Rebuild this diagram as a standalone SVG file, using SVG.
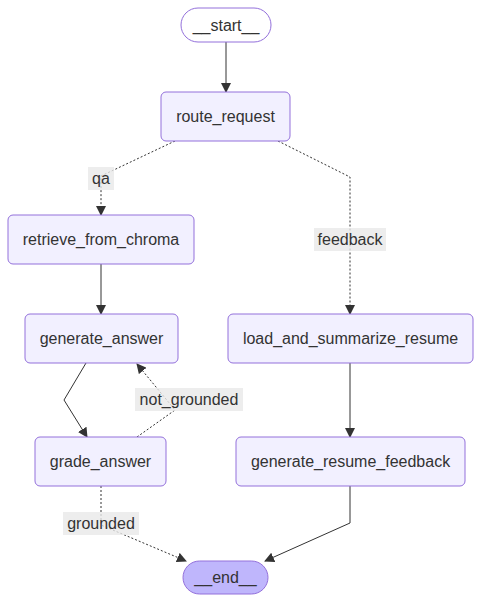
<svg xmlns="http://www.w3.org/2000/svg" width="481" height="603" viewBox="0 0 481 603">
<style>
.node rect{fill:#f2f0ff;stroke:#9370db;stroke-width:1}
.node.first rect{fill:#ffffff}
.node.last rect{fill:#bfb6fc}
text{font-family:"Liberation Sans",Arial,sans-serif;font-size:16px;fill:#333;text-anchor:middle;dominant-baseline:central}
.edge{fill:none;stroke:#333;stroke-width:1}
.dot{stroke-dasharray:2 2}
.lbl rect{fill:#e8e8e8;opacity:0.8}
</style>
<defs>
<marker id="arr" viewBox="0 0 10 10" refX="9" refY="5" markerWidth="10" markerHeight="10" markerUnits="userSpaceOnUse" orient="auto">
<path d="M0,0 L10,5 L0,10 z" fill="#333"/>
</marker>
</defs>
<rect width="481" height="603" fill="#ffffff"/>
<g id="connectors">
<path class="edge" d="M226,42 L226,92" marker-end="url(#arr)"/>
<path class="edge dot" d="M175,141 L101,176 L101,215" marker-end="url(#arr)"/>
<path class="edge dot" d="M278,141 L350,177 L350,314" marker-end="url(#arr)"/>
<path class="edge" d="M101,264 L101,314" marker-end="url(#arr)"/>
<path class="edge" d="M350,363 L350,437" marker-end="url(#arr)"/>
<path class="edge" d="M86,363 L64,400 L87,437" marker-end="url(#arr)"/>
<path class="edge dot" d="M137,437 L175,410 L137,364" marker-end="url(#arr)"/>
<path class="edge dot" d="M101,486 L101,525 L186,561" marker-end="url(#arr)"/>
<path class="edge" d="M350,486 L350,523 L265,561" marker-end="url(#arr)"/>
<g class="lbl"><rect x="88" y="167" width="26" height="23"/><text x="101" y="178.5">qa</text></g>
<g class="lbl"><rect x="314" y="228" width="72" height="23"/><text x="350" y="239.5">feedback</text></g>
<g class="lbl"><rect x="135" y="388" width="108" height="23"/><text x="189" y="399.5">not_grounded</text></g>
<g class="lbl"><rect x="63" y="512" width="76" height="23"/><text x="101" y="523.5">grounded</text></g>
</g>
<g id="start" class="node first"><rect x="181" y="8" width="90" height="34" rx="17" ry="17"/><text x="226" y="25">__start__</text></g>
<g id="route_request" class="node"><rect x="161" y="92" width="129" height="49" rx="5" ry="5"/><text x="225.5" y="116.5">route_request</text></g>
<g id="retrieve_from_chroma" class="node"><rect x="8" y="215" width="186" height="49" rx="5" ry="5"/><text x="101" y="239.5">retrieve_from_chroma</text></g>
<g id="generate_answer" class="node"><rect x="25" y="314" width="153" height="49" rx="5" ry="5"/><text x="101.5" y="338.5">generate_answer</text></g>
<g id="grade_answer" class="node"><rect x="35" y="437" width="131" height="49" rx="5" ry="5"/><text x="100.5" y="461.5">grade_answer</text></g>
<g id="load_and_summarize_resume" class="node"><rect x="228" y="314" width="245" height="49" rx="5" ry="5"/><text x="350.5" y="338.5">load_and_summarize_resume</text></g>
<g id="generate_resume_feedback" class="node"><rect x="236" y="437" width="229" height="49" rx="5" ry="5"/><text x="350.5" y="461.5">generate_resume_feedback</text></g>
<g id="end" class="node last"><rect x="183" y="561" width="85" height="33" rx="16.5" ry="16.5"/><text x="225.5" y="577.5">__end__</text></g>
</svg>
